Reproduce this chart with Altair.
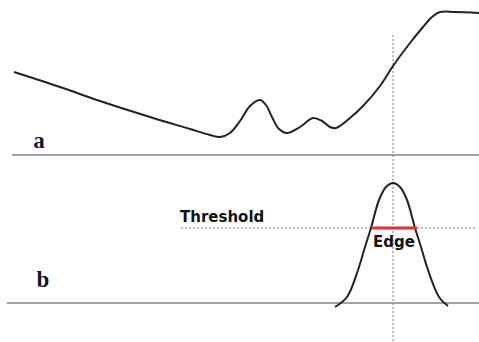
import altair as alt
import pandas as pd

# --- panel a: intensity profile along the scan line ---
signal_x = [14, 60, 100, 150, 190, 210, 220, 230, 240, 250, 260, 266, 272, 279, 287,
            300, 313, 322, 330, 336, 350, 363, 380, 393, 410, 423, 432, 440, 455, 479]
signal_v = [83, 68, 54, 38, 26, 20, 18, 22, 34, 49, 55, 50, 38, 26, 22,
            28, 37, 34, 28, 27, 37, 49, 69, 89, 112, 128, 138, 143, 143, 142]

# --- panel b: gradient magnitude around the edge ---
grad_x = [335, 347, 358, 365, 371, 379, 386, 393, 400, 407, 415, 421, 428, 439, 448]
grad_v = [-4, 6, 33, 56, 75, 103, 116, 120, 116, 103, 75, 56, 33, 6, -3]

edge_pos = 393          # location of the detected edge
threshold = 75          # gradient threshold
edge_span = [371, 417]  # where the gradient exceeds the threshold
threshold_span = [181, 475]
baseline_a = [12, 479]
baseline_b = [7, 479]

W, H = 479, 342
X_DOMAIN = [0, 479]
YA_DOMAIN = [-187, 155]   # upper trace: zero line sits at 155 px from the top
YB_DOMAIN = [-39, 303]    # lower trace: zero line sits at 303 px from the top

xs = alt.Scale(domain=X_DOMAIN, nice=False, zero=False)

curve_color = "#222222"
base_color = "#808080"
dot_color = "#777777"


def X(field):
    return alt.X(field, type="quantitative", scale=xs, axis=None)


def YA(field):
    return alt.Y(field, type="quantitative", axis=None,
                 scale=alt.Scale(domain=YA_DOMAIN, nice=False, zero=False))


def YB(field):
    return alt.Y(field, type="quantitative", axis=None,
                 scale=alt.Scale(domain=YB_DOMAIN, nice=False, zero=False))


# ---------- upper trace (a) ----------
signal = alt.Chart(pd.DataFrame({"x": signal_x, "v": signal_v})).mark_line(
    color=curve_color, strokeWidth=2, interpolate="catmull-rom"
).encode(x=X("x"), y=YA("v"))

base_a = alt.Chart(pd.DataFrame({"x": [baseline_a[0]], "x2": [baseline_a[1]], "v": [0]})).mark_rule(
    color=base_color, strokeWidth=1.5
).encode(x=X("x"), x2="x2", y=YA("v"))

vline = alt.Chart(pd.DataFrame({"x": [edge_pos], "v": [120], "v2": [YA_DOMAIN[0]]})).mark_rule(
    color=dot_color, strokeWidth=1, strokeDash=[2, 2]
).encode(x=X("x"), y=YA("v"), y2="v2")

label_a = alt.Chart(pd.DataFrame({"x": [39], "v": [7], "t": ["a"]})).mark_text(
    font="Liberation Serif", fontWeight="bold", fontSize=23, color="#15152e",
    align="center", baseline="alphabetic"
).encode(x=X("x"), y=YA("v"), text="t:N")

# ---------- lower trace (b) ----------
gradient = alt.Chart(pd.DataFrame({"x": grad_x, "v": grad_v})).mark_line(
    color=curve_color, strokeWidth=2, interpolate="catmull-rom"
).encode(x=X("x"), y=YB("v"))

base_b = alt.Chart(pd.DataFrame({"x": [baseline_b[0]], "x2": [baseline_b[1]], "v": [0]})).mark_rule(
    color=base_color, strokeWidth=1.5
).encode(x=X("x"), x2="x2", y=YB("v"))

thr_line = alt.Chart(pd.DataFrame({"x": [threshold_span[0]], "x2": [threshold_span[1]], "v": [threshold]})).mark_rule(
    color=dot_color, strokeWidth=1, strokeDash=[2, 2]
).encode(x=X("x"), x2="x2", y=YB("v"))

edge_line = alt.Chart(pd.DataFrame({"x": [edge_span[0]], "x2": [edge_span[1]], "v": [threshold]})).mark_rule(
    color="#e8302a", strokeWidth=3
).encode(x=X("x"), x2="x2", y=YB("v"))

thr_text = alt.Chart(pd.DataFrame({"x": [180], "v": [81], "t": ["Threshold"]})).mark_text(
    font="DejaVu Sans", fontWeight="bold", fontSize=15, color="#111111",
    align="left", baseline="alphabetic"
).encode(x=X("x"), y=YB("v"), text="t:N")

edge_text = alt.Chart(pd.DataFrame({"x": [394], "v": [56], "t": ["Edge"]})).mark_text(
    font="DejaVu Sans", fontWeight="bold", fontSize=15, color="#111111",
    align="center", baseline="alphabetic"
).encode(x=X("x"), y=YB("v"), text="t:N")

label_b = alt.Chart(pd.DataFrame({"x": [43], "v": [16], "t": ["b"]})).mark_text(
    font="Liberation Serif", fontWeight="bold", fontSize=23, color="#15152e",
    align="center", baseline="alphabetic"
).encode(x=X("x"), y=YB("v"), text="t:N")

chart = alt.layer(
    base_a, base_b, vline, thr_line, signal, gradient, edge_line,
    label_a, thr_text, edge_text, label_b,
).resolve_scale(y="independent").properties(
    width=W, height=H, padding=0, background="white",
    autosize=alt.AutoSizeParams(type="none"),
).configure_view(stroke=None)

chart.save("out.html", embed_options={"renderer": "svg", "actions": False})
